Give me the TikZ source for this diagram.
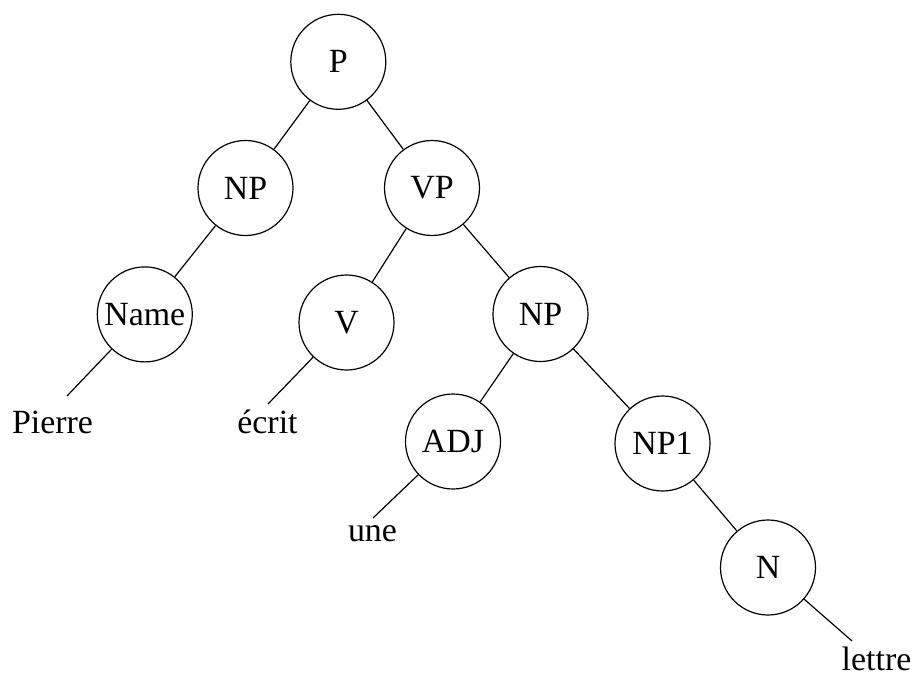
\documentclass[tikz,border=0pt]{standalone}
\usepackage{fontspec}
\setmainfont{Liberation Serif}
\begin{document}
\begin{tikzpicture}[x=1pt,y=-1pt,
  cat/.style={draw,circle,line width=1.2pt,minimum size=95pt,inner sep=0pt,font=\fontsize{33.9}{40}\selectfont},
  leaf/.style={anchor=base,inner sep=0pt,font=\fontsize{33.9}{40}\selectfont},
  edge/.style={line width=1.2pt}]
\useasboundingbox (0,0) rectangle (916,677);
\node[cat] (P) at (338.3,61.8) {P};
\node[cat] (NPa) at (245.5,188) {NP};
\node[cat] (VP) at (432,188) {VP};
\node[cat] (Name) at (144.8,314.4) {Name};
\node[cat] (V) at (346.5,322.5) {V};
\node[cat] (NPb) at (540.5,314) {NP};
\node[cat] (ADJ) at (453,441.5) {ADJ};
\node[cat] (NP1) at (662.5,443.5) {NP1};
\node[cat] (N) at (768,567.5) {N};
\node[leaf] (Pierre) at (52.5,433.3) {Pierre};
\node[leaf] (ecrit) at (267.5,433.3) {écrit};
\node[leaf] (une) at (372.5,541.7) {une};
\node[leaf] (lettre) at (876.5,670) {lettre};
\coordinate (cPierre) at (67,396);
\coordinate (cecrit) at (268,404);
\coordinate (cune) at (373,518);
\coordinate (clettre) at (852,641);
\draw[edge] (P) -- (NPa);
\draw[edge] (P) -- (VP);
\draw[edge] (NPa) -- (Name);
\draw[edge] (VP) -- (V);
\draw[edge] (VP) -- (NPb);
\draw[edge] (NPb) -- (ADJ);
\draw[edge] (NPb) -- (NP1);
\draw[edge] (NP1) -- (N);
\draw[edge] (Name) -- (cPierre);
\draw[edge] (V) -- (cecrit);
\draw[edge] (ADJ) -- (cune);
\draw[edge] (N) -- (clettre);
\end{tikzpicture}
\end{document}
